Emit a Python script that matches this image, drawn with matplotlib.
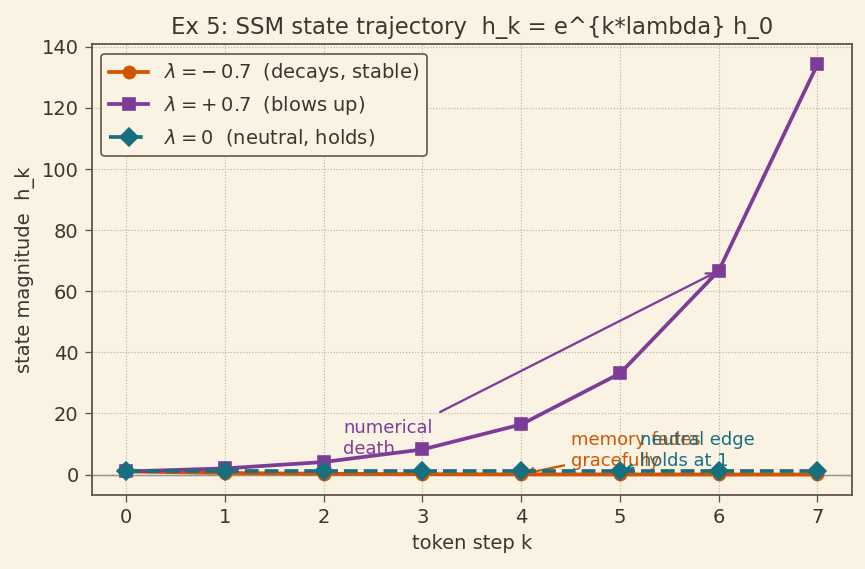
import numpy as np
import matplotlib.pyplot as plt

# valeurs
k = [0, 1, 2, 3, 4, 5, 6, 7]
h_decay = [1.0, 0.50, 0.25, 0.12, 0.06, 0.03, 0.015, 0.007]
h_blow = [1.0, 2.0, 4.1, 8.2, 16.4, 33.1, 66.7, 134.3]
h_neutral = [1.0, 1.0, 1.0, 1.0, 1.0, 1.0, 1.0, 1.0]

labels = [r'$\lambda = -\:0.7$  (decays, stable)',
          r'$\lambda = +\:0.7$  (blows up)',
          r'$\lambda = 0$  (neutral, holds)']

bg = '#faf3e3'
ink = '#3d3530'
edge = '#5e5348'
c_orange = '#d35400'
c_purple = '#7d3c98'
c_teal = '#17707f'

DPI = 117
plt.rcParams['font.family'] = 'DejaVu Sans'
fig, ax = plt.subplots(figsize=(865 / DPI, 569 / DPI), dpi=DPI)
fig.patch.set_facecolor(bg)
ax.set_facecolor(bg)

ax.axhline(0, color='#8a8580', lw=0.9, zorder=1)
ax.plot(k, h_decay, '-o', color=c_orange, lw=2.3, ms=7.5, label=labels[0], zorder=3)
ax.plot(k, h_blow, '-s', color=c_purple, lw=2.3, ms=7.5, label=labels[1], zorder=3)
ax.plot(k, h_neutral, '--D', color=c_teal, lw=2.3, ms=7.5, label=labels[2], zorder=4)

# annotations
ax.annotate('numerical\ndeath', xy=(6, 66.7), xytext=(2.2, 5.5),
            color=c_purple, fontsize=11, va='bottom',
            arrowprops=dict(arrowstyle='->', color=c_purple, lw=1.4, shrinkA=5))
ax.annotate('memory fades\ngracefully', xy=(4, 0.06), xytext=(4.5, 1.5),
            color=c_orange, fontsize=11, va='bottom',
            arrowprops=dict(arrowstyle='->', color=c_orange, lw=1.4))
ax.annotate('neutral edge\nholds at 1', xy=(5, 1.0), xytext=(5.2, 1.5),
            color=c_teal, fontsize=11, va='bottom',
            arrowprops=dict(arrowstyle='->', color=c_teal, lw=1.4))

ax.set_title('Ex 5: SSM state trajectory  h_k = e^{k*lambda} h_0', fontsize=14, color=ink)
ax.set_xlabel('token step k', fontsize=12, color=ink)
ax.set_ylabel('state magnitude  h_k', fontsize=12, color=ink)
ax.tick_params(colors=ink, labelsize=12, color=edge, length=4.5)
for s in ax.spines.values():
    s.set_color(edge)
    s.set_linewidth(1.1)
ax.grid(True, linestyle=':', color='#b8b0a2', lw=0.7)

leg = ax.legend(loc='upper left', fontsize=12, facecolor=bg, edgecolor=edge,
                framealpha=1, fancybox=True)
for t in leg.get_texts():
    t.set_color(ink)
leg.get_frame().set_linewidth(1.0)

fig.subplots_adjust(left=0.106, right=0.985, top=0.923, bottom=0.130)
fig.savefig('out.png', dpi=DPI, facecolor=bg)
